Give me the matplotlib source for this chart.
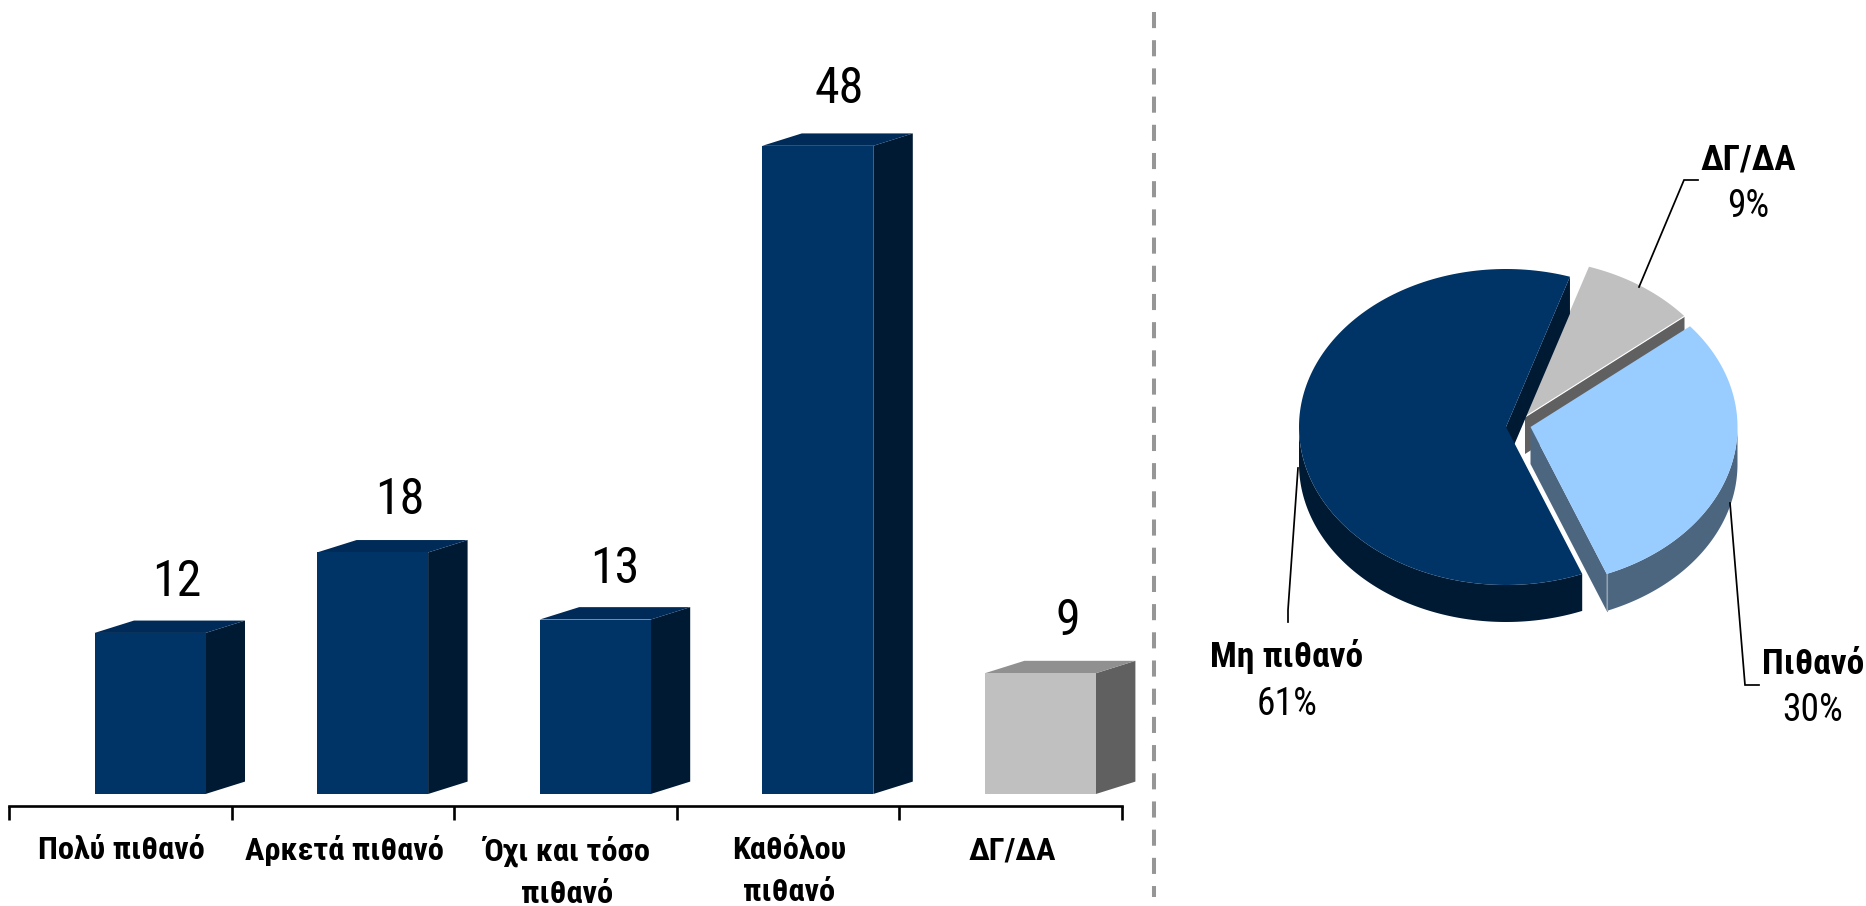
import numpy as np
import matplotlib
matplotlib.use("Agg")
import matplotlib.pyplot as plt
from matplotlib.patches import Polygon

plt.rcParams['font.family'] = ['Roboto Condensed', 'Liberation Sans', 'DejaVu Sans']

# ---- data ----
bar_labels = ['Πολύ πιθανό', 'Αρκετά πιθανό', 'Όχι και τόσο\nπιθανό', 'Καθόλου\nπιθανό', 'ΔΓ/ΔΑ']
bar_values = [12, 18, 13, 48.3, 9]

pie_labels = ['Μη πιθανό', 'ΔΓ/ΔΑ', 'Πιθανό']
pie_values = [61, 9, 30]

# ---- styles ----
W, H = 1866, 906
NAVY = ('#003366', '#001A33', '#002A57')   # front, side, top
GREY = ('#C0C0C0', '#606060', '#909090')
bar_styles = [NAVY, NAVY, NAVY, NAVY, GREY]
LIGHT = ('#99CCFF', '#4D6680')
label_lift_px = [37, 38, 37, 43, 38]
label_shift_px = [7, 7, 0, 2, 8]

fig = plt.figure(figsize=(W / 100, H / 100), dpi=100, facecolor='white')

# ---- 3D-look bars ----
ax_left, ax_right, ax_bottom = 9, 1122, 806
base_y = 794
px_per_unit = 13.42
cat_px = (ax_right - ax_left) / len(bar_values)
ax = fig.add_axes([ax_left / W, 1 - ax_bottom / H, (ax_right - ax_left) / W, ax_bottom / H])
ax.set_xlim(0, len(bar_values))
ax.set_ylim(-(ax_bottom - base_y) / px_per_unit, base_y / px_per_unit)
ax.patch.set_alpha(0)

bar_w = 111 / cat_px
bar_off = 85.5 / cat_px
dx = 39.5 / cat_px
dy = 12.4 / px_per_unit
xs = np.arange(len(bar_values))
ax.bar(xs + bar_off, bar_values, bar_w, align='edge',
       color=[s[0] for s in bar_styles], linewidth=0, zorder=3)
for x, v, s, lift, shift in zip(xs, bar_values, bar_styles, label_lift_px, label_shift_px):
    l = x + bar_off
    r = l + bar_w
    ax.add_patch(Polygon([(r, 0), (r + dx, dy), (r + dx, v + dy), (r, v)], fc=s[1], ec='none',
                         zorder=2, clip_on=False))
    ax.add_patch(Polygon([(l, v), (l + dx, v + dy), (r + dx, v + dy), (r, v)], fc=s[2], ec='none',
                         zorder=2, clip_on=False))
    ax.annotate(str(round(v)), (l + bar_w / 2 + dx / 2, v), xytext=(shift * 0.72, lift * 0.72),
                textcoords='offset points', ha='center', va='baseline', fontsize=36, color='black')

for side in ('top', 'left', 'right'):
    ax.spines[side].set_visible(False)
ax.spines['bottom'].set_linewidth(1.9)
ax.set_yticks([])
ax.set_xticks(np.arange(len(bar_values) + 1))
ax.set_xticklabels([])
ax.tick_params(axis='x', which='major', length=10, width=1.9, direction='out', color='black')
ax.set_xticks(xs + 0.505, minor=True)
ax.set_xticklabels(bar_labels, minor=True, fontsize=23.3, fontweight='bold', linespacing=1.5)
ax.tick_params(axis='x', which='minor', length=0, pad=21)

# ---- overlay in pixel units: divider and 3D-look pie ----
ov = fig.add_axes([0, 0, 1, 1])
ov.set_xlim(0, W)
ov.set_ylim(H, 0)
ov.axis('off')
ov.patch.set_alpha(0)

ov.plot([1153.7, 1153.7], [12, 897], color='#969696', lw=2.9,
        dashes=(16 / 4, 12 / 4), dash_capstyle='butt', zorder=1)

cx, cy, a, b, depth = 1506, 427, 207, 158, 37
start_deg = 158.4
sweeps = np.array(pie_values) / sum(pie_values) * 360
edges = start_deg + np.concatenate([[0], np.cumsum(sweeps)])
offsets = {'Μη πιθανό': (0, 0), 'ΔΓ/ΔΑ': (19, -10), 'Πιθανό': (24.5, 0)}


def arc(t0, t1, ox, oy, dz=0, n=160):
    t = np.radians(np.linspace(t0, t1, n))
    return np.column_stack([cx + ox + a * np.sin(t), cy + oy - b * np.cos(t) + dz])


def draw_slice(idx, top, wall, wall_edge, z):
    t0, t1 = edges[idx], edges[idx + 1]
    if t0 >= 360:
        t0, t1 = t0 - 360, t1 - 360
    ox, oy = offsets[pie_labels[idx]]
    apex = np.array([cx + ox, cy + oy])
    # cut-face wall
    e = arc(wall_edge, wall_edge, ox, oy, n=1)[0]
    ov.add_patch(Polygon([apex, e, e + (0, depth), apex + (0, depth)], fc=wall, ec='none', zorder=z))
    # outer rim: the part of the arc in the front half of the ellipse
    lo, hi = max(t0, 90), min(t1, 270)
    if hi > lo:
        up = arc(lo, hi, ox, oy)
        down = arc(lo, hi, ox, oy, depth)
        ov.add_patch(Polygon(np.vstack([up, down[::-1]]), fc=wall, ec='none', zorder=z))
    # top face
    ov.add_patch(Polygon(np.vstack([apex, arc(t0, t1, ox, oy)]), fc=top, ec='none', zorder=z + 0.5))
    return apex, e


# grey slice (behind), navy, then the light slice in front
apex_g, e_g = draw_slice(1, GREY[0], GREY[1], edges[2] - 360, 3)
ov.plot([apex_g[0], e_g[0]], [apex_g[1], e_g[1]], color='white', lw=0.8, zorder=3.6)
draw_slice(0, NAVY[0], NAVY[1], edges[1] - 360, 4)
apex_l, e_l = draw_slice(2, LIGHT[0], LIGHT[1], edges[3] - 360, 5)
ov.plot([e_l[0], e_l[0]], [e_l[1], e_l[1] + depth], color='#8FA3B8', lw=0.8, zorder=5.6)

# leader lines
leader_kw = dict(color='black', lw=1.25, zorder=6, solid_joinstyle='miter')
ov.plot([1639, 1684, 1698], [287, 180, 180], **leader_kw)
ov.plot([1298, 1288, 1288], [468, 610, 622], **leader_kw)
ov.plot([1730, 1745, 1759], [503, 685, 685], **leader_kw)

# pie labels
label_pos = {'Μη πιθανό': (1287, 667, 715), 'ΔΓ/ΔΑ': (1748, 169, 217), 'Πιθανό': (1813, 674, 721)}
for name, val in zip(pie_labels, pie_values):
    x, y1, y2 = label_pos[name]
    ov.text(x, y1, name, ha='center', va='baseline', fontsize=25.5, fontweight='bold', color='black')
    ov.text(x, y2, f'{val}%', ha='center', va='baseline', fontsize=27, color='black')

fig.savefig('out.png', dpi=100, facecolor='white')
